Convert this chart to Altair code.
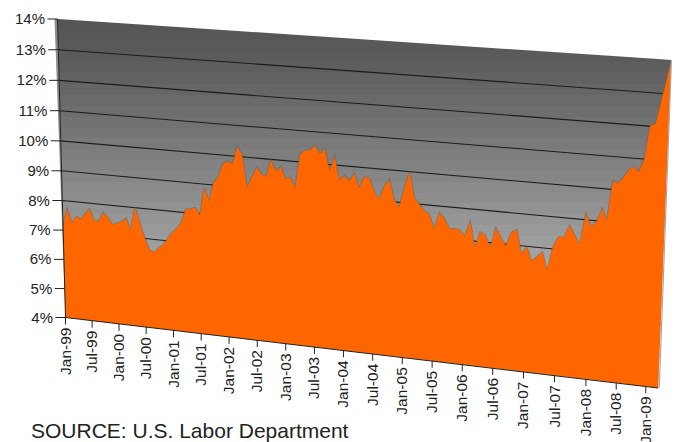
import numpy as np
import pandas as pd
import altair as alt

# ---- data -----------------------------------------------------------------
months = [0,1,2,3,4,6,7,8,9,10,11,13,14,15,16,18,19,20,21,22,
          24,25,26,27,28,29,30,31,32,33,34,35,36,37,38,39,40,42,43,44,45,46,47,
          48,49,50,51,52,53,54,55,56,57,58,59,60,61,62,63,64,65,66,67,68,69,70,71,
          72,73,74,75,76,77,78,79,80,81,82,83,84,85,86,87,88,89,90,91,92,93,94,
          95,96,97,99,100,101,102,103,104,106,107,108,109,110,111,
          112,113,114,115,116,117,118,119,120,122.5]
rates = [7.18,7.73,7.25,7.51,7.42,7.80,7.41,7.42,7.72,7.59,7.34,7.48,7.61,7.23,8.01,7.01,6.65,6.55,6.73,6.84,
         7.29,7.44,7.65,8.10,8.13,8.19,7.95,8.87,8.43,9.07,9.27,9.71,9.81,9.72,10.30,10.07,9.00,9.68,9.50,9.40,9.97,9.61,9.78,
         9.41,9.47,9.12,10.23,10.37,10.39,10.56,10.30,10.48,9.78,10.27,9.51,9.68,9.52,9.78,9.31,9.69,9.68,9.25,9.02,9.44,9.68,9.06,8.82,
         9.43,9.99,9.18,8.98,8.78,8.69,8.23,8.78,8.60,8.30,8.32,8.29,8.10,8.60,7.78,8.29,8.20,7.82,8.48,8.18,7.93,8.37,8.48,
         7.71,7.97,7.53,7.85,7.29,8.05,8.37,8.38,8.76,8.20,9.18,8.78,8.94,9.38,9.00,
         10.26,10.19,10.37,10.61,10.75,10.58,10.98,12.03,12.07,13.95]
y_ticks = [4,5,6,7,8,9,10,11,12,13,14]
x_tick_labels = ["Jan-99","Jul-99","Jan-00","Jul-00","Jan-01","Jul-01","Jan-02","Jul-02",
                 "Jan-03","Jul-03","Jan-04","Jul-04","Jan-05","Jul-05","Jan-06","Jul-06",
                 "Jan-07","Jul-07","Jan-08","Jul-08","Jan-09"]
x_tick_months = list(range(0, 121, 6))
source_text = "SOURCE: U.S. Labor Department"

# ---- the tilted 3-D wall: a perspective map (month, rate) -> page position --
LAST = 122.5
BL, BR, TR, TL = (65.5, 317.5), (663.0, 388.0), (677.0, 60.0), (57.5, 19.0)

def _coef(p00, p10, p11, p01):
    d1x, d2x = p10[0]-p11[0], p01[0]-p11[0]
    d1y, d2y = p10[1]-p11[1], p01[1]-p11[1]
    sx, sy = p00[0]-p10[0]+p11[0]-p01[0], p00[1]-p10[1]+p11[1]-p01[1]
    det = d1x*d2y-d2x*d1y
    g, h = (sx*d2y-d2x*sy)/det, (d1x*sy-sx*d1y)/det
    return (p10[0]-p00[0]+g*p10[0], p01[0]-p00[0]+h*p01[0], p00[0],
            p10[1]-p00[1]+g*p10[1], p01[1]-p00[1]+h*p01[1], p00[1], g, h)
A, B, C, D, E, F, G, H = _coef(BL, BR, TR, TL)

def proj(m, v):
    t, f = np.asarray(m, float)/LAST, (np.asarray(v, float)-4)/10
    w = G*t+H*f+1
    return (A*t+B*f+C)/w, (D*t+E*f+F)/w

def band(upper, lower):
    """Polygon between two x-monotone outlines, as rows for a vertical area."""
    ux, uy = zip(*upper); lx, ly = zip(*lower)
    xs = np.unique(np.r_[ux, lx])
    return pd.DataFrame({"x": xs, "y": np.interp(xs, ux, uy), "y2": np.interp(xs, lx, ly)})

# the page only leaves 664px of width, so the last stretch is eased in to keep the corner
X = alt.Scale(domain=[8, 600, 678], range=[0, 592, 664], nice=False, zero=False)
Y = alt.Scale(domain=[8, 442], range=[0, 434], nice=False, zero=False)
ex = dict(x=alt.X("x:Q", scale=X, axis=None), y=alt.Y("y:Q", scale=Y, axis=None))

def area(df, **mk):
    return alt.Chart(df).mark_area(**mk).encode(y2="y2:Q", **ex)

def segs(rows):
    out = []
    for i, (p, q) in enumerate(rows):
        out += [dict(x=p[0], y=p[1], k=i), dict(x=q[0], y=q[1], k=i)]
    return pd.DataFrame(out)

def lines(rows, **mk):
    return alt.Chart(segs(rows)).mark_line(**mk).encode(detail="k:N", **ex)

# wall: stepped grey shading, dark at the top and light at the bottom
def grey(o):
    g = int(round(np.interp(o, [0, 0.12, 0.68, 1], [0x54, 0x5c, 0xa8, 0xc4])))
    return f"#{g:02x}{g:02x}{g:02x}"
N_BANDS = 34
stops = []
for i in range(N_BANDS):
    c = grey((i+0.5)/N_BANDS)
    stops += [alt.GradientStop(offset=i/N_BANDS, color=c),
              alt.GradientStop(offset=(i+1)/N_BANDS, color=c)]
wall = area(band([TL, TR], [TL, BL, BR, TR]), line=False, color=alt.Gradient(
    gradient="linear", x1=0, x2=0, y1=0, y2=1, stops=stops))
side = area(band([(54.5, 19.0), TL, BL], [(54.5, 19.0), BL]), color="#8c8c8c")

# gridlines and axes
def at(m, v):
    x, y = proj(m, v)
    return (float(x), float(y))

grid = lines([(at(0, v), at(LAST, v)) for v in y_ticks[1:-1]], color="#1c1c1c", strokeWidth=1.1)

px, py = proj(months, rates)
profile = list(zip(px.tolist(), py.tolist()))
edge = alt.Chart(pd.DataFrame({"x": px, "y": py})).mark_line(
    color="#6f5a3c", strokeWidth=1.6, opacity=0.55).encode(order=alt.Order("x:Q"), **ex)
fill = area(band(profile, [profile[0], BL, BR, profile[-1]]), color="#FF6600")

axis_lines = lines([(at(0, 4), at(0, 14)), (at(0, 4), at(LAST, 4))], color="#222222", strokeWidth=1)
right_edge = lines([((BR[0]+1.2, BR[1]), (TR[0]+0.4, TR[1]))], color="#a9a9a9", strokeWidth=1.2)

y_pos = [at(0, v) for v in y_ticks]
y_tick_marks = lines([((p[0]-10, p[1]), p) for p in y_pos], color="#222222", strokeWidth=1)
x_pos = [at(m, 4) for m in x_tick_months]
x_tick_marks = lines([(p, (p[0], p[1]+7)) for p in x_pos], color="#222222", strokeWidth=1)

font = dict(font="Liberation Sans", color="#222222")
y_labels = alt.Chart(pd.DataFrame({
    "x": [p[0]-12.5 for p in y_pos], "y": [p[1] for p in y_pos],
    "t": [f"{v}%" for v in y_ticks]})).mark_text(
    align="right", baseline="middle", fontSize=15, **font).encode(text="t:N", **ex)
x_labels = alt.Chart(pd.DataFrame({
    "x": [p[0] for p in x_pos], "y": [p[1]+10 for p in x_pos],
    "t": x_tick_labels})).mark_text(
    align="right", baseline="middle", angle=270, fontSize=15.5, **font).encode(text="t:N", **ex)
source = alt.Chart(pd.DataFrame({"x": [31], "y": [437.5], "t": [source_text]})).mark_text(
    align="left", baseline="alphabetic", fontSize=21, **font).encode(text="t:N", **ex)

chart = alt.layer(wall, side, grid, edge, fill, right_edge, axis_lines, y_tick_marks,
                  x_tick_marks, y_labels, x_labels, source).properties(
    width=664, height=434, padding=0,
    autosize=alt.AutoSizeParams(type="none")
).configure_view(stroke=None)

chart.save("out.html", embed_options={"renderer": "svg", "actions": False})
